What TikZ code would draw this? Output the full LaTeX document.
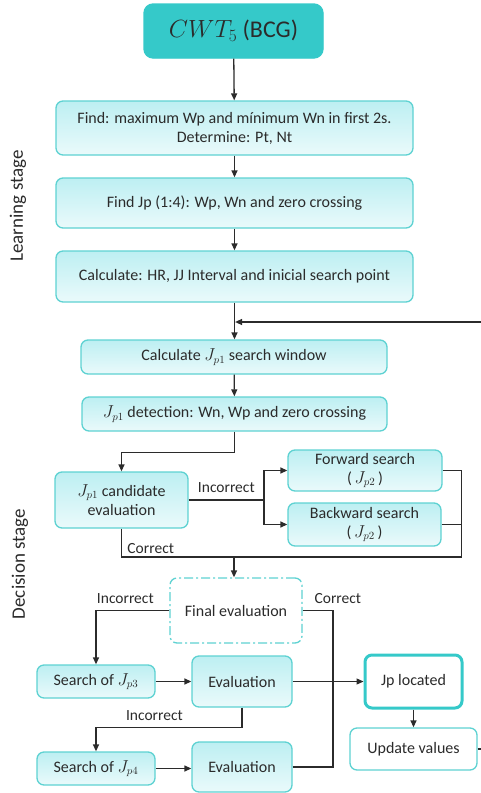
\documentclass[tikz,border=0pt]{standalone}
\usepackage{fontspec}
\setmainfont{Carlito}
\usepackage{xcolor}
\definecolor{ink}{HTML}{2B2B2B}
\definecolor{teal}{HTML}{5ED2D2}
\definecolor{deep}{HTML}{35C9C9}
\definecolor{paletop}{HTML}{BDEFF2}
\definecolor{palebot}{HTML}{EAFAFB}
\usetikzlibrary{arrows.meta}
\tikzset{
  >={Triangle[length=7pt, width=6pt]},
  box/.style={draw=teal, rounded corners=7pt, align=center, line width=1.3pt, inner sep=2pt,
    top color=paletop, bottom color=palebot, text=ink, font=\fontsize{16}{19}\selectfont},
  plain/.style={box, top color=white, bottom color=white},
  flow/.style={line width=1.3pt, color=ink},
  tag/.style={font=\fontsize{15.5}{18}\selectfont, text=ink},
  stage/.style={font=\fontsize{19}{22}\selectfont, text=ink, rotate=90},
}

\begin{document}
\begin{tikzpicture}[x=1pt, y=-1pt]
  \useasboundingbox (0,0) rectangle (481,793);

  % Learning stage boxes.
  \node[box, draw=deep, fill=deep, top color=deep, bottom color=deep, rounded corners=9pt,
    minimum width=179pt, minimum height=54pt, font=\fontsize{24}{28}\selectfont]
    (cwt) at (233.5,31) {$CWT_5$ (BCG)};
  \node[box, minimum width=357pt, minimum height=54pt] (find) at (234.5,128)
    {Find: maximum Wp and mínimum Wn in first 2s.\\Determine: Pt, Nt};
  \node[box, minimum width=357pt, minimum height=50pt] (jp) at (234.5,203)
    {Find Jp (1:4): Wp, Wn and zero crossing};
  \node[box, minimum width=357pt, minimum height=51pt] (calc) at (234.5,276.5)
    {Calculate: HR, JJ Interval and inicial search point};

  % Decision stage boxes.
  \node[box, minimum width=306pt, minimum height=34pt] (window) at (234,357)
    {Calculate $J_{p1}$ search window};
  \node[box, minimum width=305pt, minimum height=34pt] (detect) at (234.5,414)
    {$J_{p1}$ detection: Wn, Wp and zero crossing};
  \node[box, minimum width=133pt, minimum height=56pt] (cand) at (121.5,500)
    {$J_{p1}$ candidate\\evaluation};
  \node[box, minimum width=154pt, minimum height=41pt, inner sep=1pt] (fwd) at (365,470.5)
    {Forward search\\(\,$J_{p2}$\,)};
  \node[box, minimum width=153pt, minimum height=43pt, inner sep=1pt] (bwd) at (364.5,524.5)
    {Backward search\\(\,$J_{p2}$\,)};
  \node[plain, dash pattern=on 9pt off 3pt on 2pt off 3pt, minimum width=132pt, minimum height=65pt]
    (final) at (236,610.5) {Final evaluation};
  \node[box, minimum width=118pt, minimum height=33pt] (s3) at (96,681.5) {Search of $J_{p3}$};
  \node[box, minimum width=100pt, minimum height=51pt] (ev1) at (242,681.5) {Evaluation};
  \node[plain, draw=deep, line width=3pt, minimum width=97pt, minimum height=53pt]
    (located) at (413.5,681.5) {Jp located};
  \node[plain, minimum width=127pt, minimum height=42pt] (update) at (413.5,749) {Update values};
  \node[box, minimum width=118pt, minimum height=33pt] (s4) at (96,768.5) {Search of $J_{p4}$};
  \node[box, minimum width=100pt, minimum height=50pt] (ev2) at (242,767) {Evaluation};

  \node[stage] (learn) at (18,206) {Learning stage};
  \node[stage] (decide) at (20,564) {Decision stage};

  % Joints where several lines meet.
  \coordinate (merge) at (calc.south |- 0,322);
  \coordinate (split) at (264,500);
  \coordinate (join) at (234,557);
  \coordinate (bus) at (333,681.5);

  \draw[flow, ->] (cwt) -- (find);
  \draw[flow, ->] (find) -- (jp);
  \draw[flow, ->] (jp) -- (calc);
  \draw[flow, ->] (calc.south) -- (window.north -| calc.south);
  \draw[flow, ->] (update.east) -- ++(14,0) |- ([xshift=0.6pt]merge);
  \draw[flow, ->] (window) -- (detect);
  \draw[flow, ->] (detect.south) -- ++(0,21) -| (cand.north);

  \draw[flow] (cand.east) -- (split) node[tag, pos=0.5, above=3pt] {Incorrect};
  \draw[flow, ->] (split) |- (fwd.west);
  \draw[flow, ->] (split) |- (bwd.west);
  \draw[flow] (fwd.east) -- ++(19,0) |- (join);
  \draw[flow] (bwd.east) -- ++(20,0);
  \draw[flow] (cand.south) |- (join) node[tag, pos=0.35, right=2pt] {Correct};
  \draw[flow, ->] (join) -- (final.north -| join);

  \draw[flow, ->] (final.west) -| (s3.north) node[tag, pos=0.3, above=3pt] {Incorrect};
  \draw[flow] (final.east) -| (bus) node[tag, at start, anchor=south west, xshift=8pt, yshift=3pt] {Correct};
  \draw[flow, ->] (s3) -- (ev1);
  \draw[flow, ->] (ev1) -- (located);
  \draw[flow, ->] (ev1.south) -- ++(0,20) -| (s4.north) node[tag, pos=0.3, above=3pt] {Incorrect};
  \draw[flow, ->] (s4.east) -- (ev2.west |- s4.east);
  \draw[flow] (ev2.east) -| (bus);
  \draw[flow, ->] (located) -- (update);
\end{tikzpicture}
\end{document}
